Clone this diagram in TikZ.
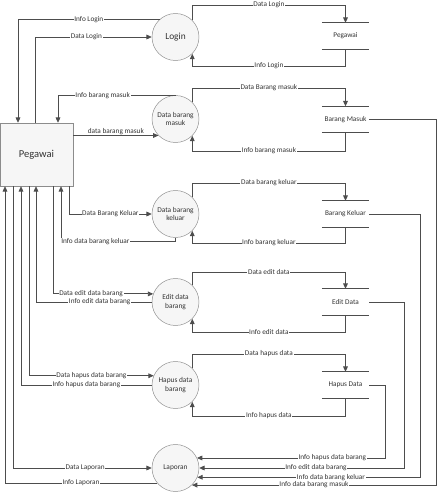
\documentclass[tikz,border=0pt]{standalone}
\usepackage{fontspec}
\setmainfont{Carlito}
\usetikzlibrary{arrows.meta}
\definecolor{linegray}{HTML}{4D4D4D}
\definecolor{edgegray}{HTML}{8C8C8C}
\definecolor{txtgray}{HTML}{333333}
\begin{document}
\begin{tikzpicture}[x=0.03cm, y=-0.03cm,
  flow/.style={draw=linegray, line width=0.7pt, -{Triangle[length=4.5pt,width=4pt]}},
  lbl/.style={fill=white, inner sep=0.6pt, text=txtgray, font=\fontsize{6.2}{7}\selectfont},
  proses/.style={circle, draw=edgegray, fill=gray!7, minimum size=1.41cm, inner sep=0pt, align=center, text=txtgray, font=\fontsize{6.3}{7.5}\selectfont},
  simpan/.style={minimum width=1.41cm, minimum height=0.78cm, inner sep=0pt, text=txtgray, font=\fontsize{6.2}{7}\selectfont},
  garis/.style={draw=linegray, line width=0.7pt}]
\useasboundingbox (0,0) rectangle (437,496);

\node[draw=edgegray, fill=gray!7, minimum width=2.19cm, minimum height=1.89cm, text=txtgray, font=\fontsize{9}{10}\selectfont] (pegawai) at (36.5,154.5) {Pegawai};

\node[proses, font=\fontsize{8}{9}\selectfont] (login) at (175.5,37) {Login};
\node[proses] (masuk) at (175.5,119) {Data barang\\masuk};
\node[proses] (keluar) at (175.5,214) {Data barang\\keluar};
\node[proses] (edit) at (175.5,302) {Edit data\\barang};
\node[proses] (hapus) at (175.5,385) {Hapus data\\barang};
\node[proses] (laporan) at (175.5,468) {Laporan};

\node[simpan] (dpegawai) at (345.5,36) {Pegawai};
\node[simpan] (dmasuk) at (345.5,119.5) {Barang Masuk};
\node[simpan] (dkeluar) at (345.5,214) {Barang Keluar};
\node[simpan] (dedit) at (345.5,302) {Edit Data};
\node[simpan] (dhapus) at (345.5,385) {Hapus Data};
\foreach \s in {dpegawai,dmasuk,dkeluar,dedit,dhapus}
  \draw[garis] (\s.north west) -- (\s.north east) (\s.south west) -- (\s.south east);

\draw[flow] (login.45) |- (dpegawai.north |- 0,5) node[lbl,pos=0.75]{Data Login} -- (dpegawai.north);
\draw[flow] (dpegawai.south) |- (login.-45 |- 0,66) node[lbl,pos=0.75]{Info Login} -- (login.-45);
\draw[flow] (masuk.45) |- (dmasuk.north |- 0,88) node[lbl,pos=0.75]{Data Barang masuk} -- (dmasuk.north);
\draw[flow] (dmasuk.south) |- (masuk.-45 |- 0,151) node[lbl,pos=0.75]{Info barang masuk} -- (masuk.-45);
\draw[flow] (keluar.45) |- (dkeluar.north |- 0,183) node[lbl,pos=0.75]{Data barang keluar} -- (dkeluar.north);
\draw[flow] (dkeluar.south) |- (keluar.-45 |- 0,243) node[lbl,pos=0.75]{Info barang keluar} -- (keluar.-45);
\draw[flow] (edit.45) |- (dedit.north |- 0,272) node[lbl,pos=0.75]{Data edit data} -- (dedit.north);
\draw[flow] (dedit.south) |- (edit.-45 |- 0,332) node[lbl,pos=0.75]{Info edit data} -- (edit.-45);
\draw[flow] (hapus.45) |- (dhapus.north |- 0,354) node[lbl,pos=0.75]{Data hapus data} -- (dhapus.north);
\draw[flow] (dhapus.south) |- (hapus.-45 |- 0,416) node[lbl,pos=0.75]{Info hapus data} -- (hapus.-45);

\draw[flow] (login.132) -| (pegawai.north -| 18,0) node[lbl,pos=0.25]{Info Login};
\draw[flow] (pegawai.north -| 35,0) |- (login.west) node[lbl,pos=0.72]{Data Login};
\draw[flow] (masuk.north) -| (pegawai.north -| 58,0) node[lbl,pos=0.31]{Info barang masuk};
\draw[flow] (pegawai.east |- masuk.224) -- (masuk.224) node[lbl,midway,above]{data barang masuk};
\draw[flow] (pegawai.south -| 69,0) |- (keluar.west) node[lbl,pos=0.75]{Data Barang Keluar};
\draw[flow] (keluar.south) -- ++(0,4) -| (pegawai.south -| 61,0) node[lbl,pos=0.35]{Info data barang keluar};
\draw[flow] (pegawai.south -| 53,0) |- (edit.160) node[lbl,pos=0.69]{Data edit data barang};
\draw[flow] (edit.west) -| (pegawai.south -| 36,0) node[lbl,pos=0.225]{Info edit data barang};
\draw[flow] (pegawai.south -| 29,0) |- (hapus.157) node[lbl,pos=0.75]{Data hapus data barang};
\draw[flow] (hapus.west) -| (pegawai.south -| 21,0) node[lbl,pos=0.25]{Info hapus data barang};
\draw[flow] (pegawai.south -| 13,0) |- (laporan.west) node[lbl,pos=0.76]{Data Laporan};
\draw[flow] (laporan.219) -| (pegawai.south -| 5,0) node[lbl,pos=0.25]{Info Laporan};

\draw[flow] (dhapus.east) -| (laporan.25 -| 385,0) -- (laporan.25) node[lbl,pos=0.28]{Info hapus data barang};
\draw[flow] (dedit.east) -| (laporan.east -| 404,0) -- (laporan.east) node[lbl,pos=0.43]{Info edit data barang};
\draw[flow] (dkeluar.east) -| (laporan.-23 -| 420,0) -- (laporan.-23) node[lbl,pos=0.4]{Info data barang keluar};
\draw[flow] (dmasuk.east) -| (laporan.-46 -| 436,0) -- (laporan.-46) node[lbl,midway]{Info data barang masuk};
\end{tikzpicture}
\end{document}
